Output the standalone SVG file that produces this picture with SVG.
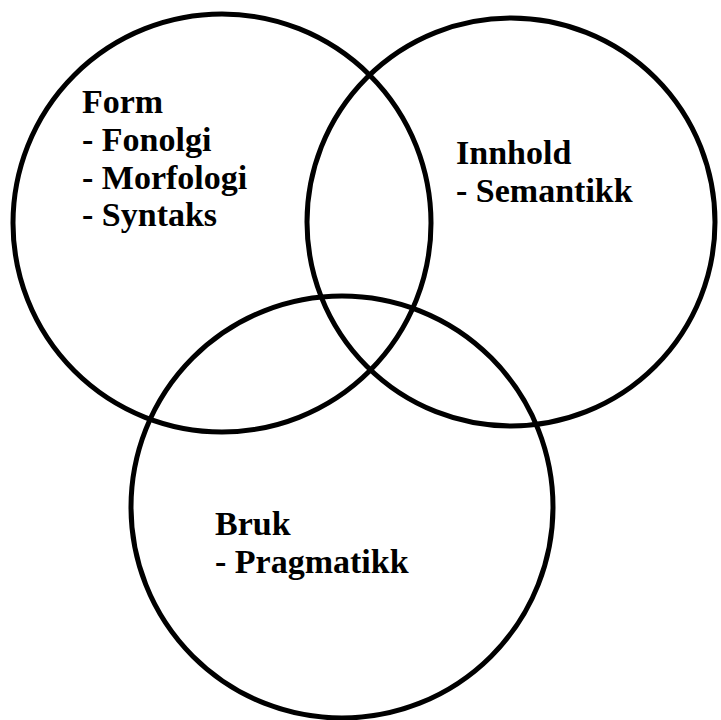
<svg xmlns="http://www.w3.org/2000/svg" width="721" height="720" viewBox="0 0 721 720">
<style>
.c{fill:none;stroke:#000;stroke-width:5}
.t{font-family:"Liberation Serif","Times New Roman",serif;font-weight:bold;font-size:34px;fill:#000}
</style>
<rect width="721" height="720" fill="#fff"/>
<g id="form">
<circle class="c" cx="222" cy="223" r="209"/>
<text class="t" x="82" y="113">Form</text>
<text class="t" x="82" y="151">- Fonolgi</text>
<text class="t" x="82" y="189">- Morfologi</text>
<text class="t" x="82" y="226">- Syntaks</text>
</g>
<g id="innhold">
<circle class="c" cx="511" cy="222" r="204"/>
<text class="t" x="456" y="164">Innhold</text>
<text class="t" x="456" y="202">- Semantikk</text>
</g>
<g id="bruk">
<circle class="c" cx="342" cy="507" r="211"/>
<text class="t" x="215" y="535">Bruk</text>
<text class="t" x="215" y="573">- Pragmatikk</text>
</g>
<g id="connectors"/>
</svg>
